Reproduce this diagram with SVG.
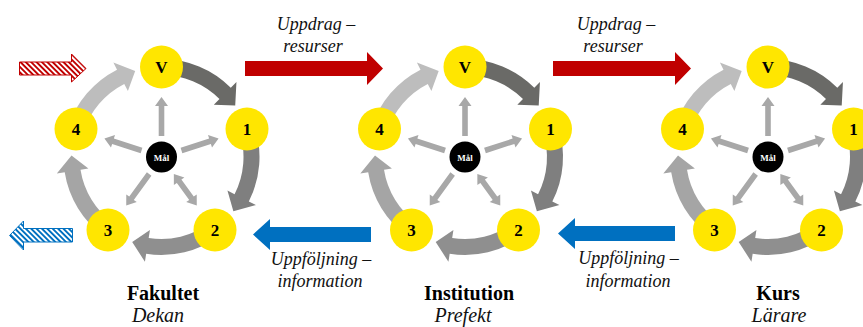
<svg xmlns="http://www.w3.org/2000/svg" xmlns:xlink="http://www.w3.org/1999/xlink" width="863" height="327" viewBox="0 0 863 327">
<style>
  text { text-anchor: middle; fill: #000; }
  .node circle { fill: #ffe600; }
  .node text { font-weight: bold; font-size: 17px; }
  .goal circle { fill: #000; }
  .goal text { fill: #fff; font-weight: bold; font-size: 9px; }
  .spoke { fill: #a8a8a8; }
  .it { font-style: italic; font-size: 18px; fill: #111; }
  .ttl { font-weight: bold; font-size: 20px; }
  .sub { font-style: italic; font-size: 20px; fill: #111; }
  .red { fill: #c00000; }
  .blue { fill: #0070c0; }
</style>
<defs>
  <path id="ring" d="M 0,-98 A 98 98 0 0 1 69.30,-69.30 L 74.95,-74.95 L 73.72,-51.62 L 52.33,-52.33 L 57.98,-57.98 A 82 82 0 0 0 0,-82 Z"/>
  <path id="spk" d="M -2.8,-21 L -2.8,-51 L -6.5,-51 L 0,-60 L 6.5,-51 L 2.8,-51 L 2.8,-21 Z"/>
  <path id="spk2" d="M 0,-21 L 6.5,-30 L 2.8,-30 L 2.8,-51 L 6.5,-51 L 0,-60 L -6.5,-51 L -2.8,-51 L -2.8,-30 L -6.5,-30 Z"/>
  <pattern id="hatchRed" patternUnits="userSpaceOnUse" width="3.8" height="3.8" patternTransform="rotate(-45)">
    <rect width="3.8" height="3.8" fill="#fff"/>
    <rect width="1.9" height="3.8" fill="#c00000"/>
  </pattern>
  <pattern id="hatchBlue" patternUnits="userSpaceOnUse" width="3.8" height="3.8" patternTransform="rotate(-45)">
    <rect width="3.8" height="3.8" fill="#fff"/>
    <rect width="1.9" height="3.8" fill="#0070c0"/>
  </pattern>
</defs>

<g id="connectors">
  <path id="in-arrow" d="M19.5,62 L71.5,62 L71.5,54 L86,68.5 L71.5,82 L71.5,75 L19.5,75 Z" fill="url(#hatchRed)" stroke="#c00000" stroke-width="1"/>
  <path id="out-arrow" d="M72.5,228.5 L23.5,228.5 L23.5,221 L9.5,235.5 L23.5,250 L23.5,242 L72.5,242 Z" fill="url(#hatchBlue)" stroke="#0070c0" stroke-width="1"/>
  <path class="red" d="M245,61 L367,61 L367,52 L383,68.5 L367,85 L367,76 L245,76 Z"/>
  <path class="red" d="M553,61 L675,61 L675,52 L691,68.5 L675,85 L675,76 L553,76 Z"/>
  <path class="blue" d="M371,227 L270,227 L270,219 L253,234.5 L270,250 L270,242 L371,242 Z"/>
  <path class="blue" d="M675,226 L575,226 L575,218 L558,233.5 L575,249 L575,241 L675,241 Z"/>

  <g transform="translate(161.5 157)">
    <use xlink:href="#ring" fill="#6a6a67"/>
    <use xlink:href="#ring" fill="#7f7f7f" transform="rotate(72)"/>
    <use xlink:href="#ring" fill="#8f8f8f" transform="rotate(144)"/>
    <use xlink:href="#ring" fill="#a5a5a5" transform="rotate(216)"/>
    <use xlink:href="#ring" fill="#bdbdbd" transform="rotate(288)"/>
    <use xlink:href="#spk" class="spoke"/>
    <use xlink:href="#spk" class="spoke" transform="rotate(72)"/>
    <use xlink:href="#spk2" class="spoke" transform="rotate(144)"/>
    <use xlink:href="#spk" class="spoke" transform="rotate(216)"/>
    <use xlink:href="#spk" class="spoke" transform="rotate(288)"/>
  </g>
  <g transform="translate(465 157)">
    <use xlink:href="#ring" fill="#6a6a67"/>
    <use xlink:href="#ring" fill="#7f7f7f" transform="rotate(72)"/>
    <use xlink:href="#ring" fill="#8f8f8f" transform="rotate(144)"/>
    <use xlink:href="#ring" fill="#a5a5a5" transform="rotate(216)"/>
    <use xlink:href="#ring" fill="#bdbdbd" transform="rotate(288)"/>
    <use xlink:href="#spk" class="spoke"/>
    <use xlink:href="#spk" class="spoke" transform="rotate(72)"/>
    <use xlink:href="#spk2" class="spoke" transform="rotate(144)"/>
    <use xlink:href="#spk" class="spoke" transform="rotate(216)"/>
    <use xlink:href="#spk" class="spoke" transform="rotate(288)"/>
  </g>
  <g transform="translate(768 157)">
    <use xlink:href="#ring" fill="#6a6a67"/>
    <use xlink:href="#ring" fill="#7f7f7f" transform="rotate(72)"/>
    <use xlink:href="#ring" fill="#8f8f8f" transform="rotate(144)"/>
    <use xlink:href="#ring" fill="#a5a5a5" transform="rotate(216)"/>
    <use xlink:href="#ring" fill="#bdbdbd" transform="rotate(288)"/>
    <use xlink:href="#spk" class="spoke"/>
    <use xlink:href="#spk" class="spoke" transform="rotate(72)"/>
    <use xlink:href="#spk2" class="spoke" transform="rotate(144)"/>
    <use xlink:href="#spk" class="spoke" transform="rotate(216)"/>
    <use xlink:href="#spk" class="spoke" transform="rotate(288)"/>
  </g>
</g>

<g font-family="'Liberation Serif', 'DejaVu Serif', 'Times New Roman', serif">
<g id="fakultet" transform="translate(161.5 157)">
  <g id="fak-V" class="node"><circle cx="0" cy="-90" r="21.5"/><text x="0" y="-84">V</text></g>
  <g id="fak-1" class="node"><circle cx="85.5" cy="-28" r="21.5"/><text x="85.5" y="-22">1</text></g>
  <g id="fak-2" class="node"><circle cx="53.5" cy="73" r="21.5"/><text x="53.5" y="79">2</text></g>
  <g id="fak-3" class="node"><circle cx="-53.5" cy="73" r="21.5"/><text x="-53.5" y="79">3</text></g>
  <g id="fak-4" class="node"><circle cx="-85.5" cy="-28" r="21.5"/><text x="-85.5" y="-22">4</text></g>
  <g id="fak-mal" class="goal"><circle cx="0" cy="0" r="15.5"/><text x="0" y="3.5">Mål</text></g>
</g>

<g id="institution" transform="translate(465 157)">
  <g id="inst-V" class="node"><circle cx="0" cy="-90" r="21.5"/><text x="0" y="-84">V</text></g>
  <g id="inst-1" class="node"><circle cx="85.5" cy="-28" r="21.5"/><text x="85.5" y="-22">1</text></g>
  <g id="inst-2" class="node"><circle cx="53.5" cy="73" r="21.5"/><text x="53.5" y="79">2</text></g>
  <g id="inst-3" class="node"><circle cx="-53.5" cy="73" r="21.5"/><text x="-53.5" y="79">3</text></g>
  <g id="inst-4" class="node"><circle cx="-85.5" cy="-28" r="21.5"/><text x="-85.5" y="-22">4</text></g>
  <g id="inst-mal" class="goal"><circle cx="0" cy="0" r="15.5"/><text x="0" y="3.5">Mål</text></g>
</g>

<g id="kurs" transform="translate(768 157)">
  <g id="kurs-V" class="node"><circle cx="0" cy="-90" r="21.5"/><text x="0" y="-84">V</text></g>
  <g id="kurs-1" class="node"><circle cx="85.5" cy="-28" r="21.5"/><text x="85.5" y="-22">1</text></g>
  <g id="kurs-2" class="node"><circle cx="53.5" cy="73" r="21.5"/><text x="53.5" y="79">2</text></g>
  <g id="kurs-3" class="node"><circle cx="-53.5" cy="73" r="21.5"/><text x="-53.5" y="79">3</text></g>
  <g id="kurs-4" class="node"><circle cx="-85.5" cy="-28" r="21.5"/><text x="-85.5" y="-22">4</text></g>
  <g id="kurs-mal" class="goal"><circle cx="0" cy="0" r="15.5"/><text x="0" y="3.5">Mål</text></g>
</g>

<g id="labels">
  <text class="it" x="316" y="30">Uppdrag –</text>
  <text class="it" x="313" y="52">resurser</text>
  <text class="it" x="616" y="30">Uppdrag –</text>
  <text class="it" x="613" y="52">resurser</text>
  <text class="it" x="321" y="265">Uppföljning –</text>
  <text class="it" x="320" y="287">information</text>
  <text class="it" x="628.5" y="264">Uppföljning –</text>
  <text class="it" x="628" y="287">information</text>
  <text class="ttl" x="163" y="300">Fakultet</text>
  <text class="sub" x="158" y="322">Dekan</text>
  <text class="ttl" x="469" y="300">Institution</text>
  <text class="sub" x="463" y="322">Prefekt</text>
  <text class="ttl" x="778" y="300">Kurs</text>
  <text class="sub" x="779" y="322">Lärare</text>
</g>
</g>
</svg>
